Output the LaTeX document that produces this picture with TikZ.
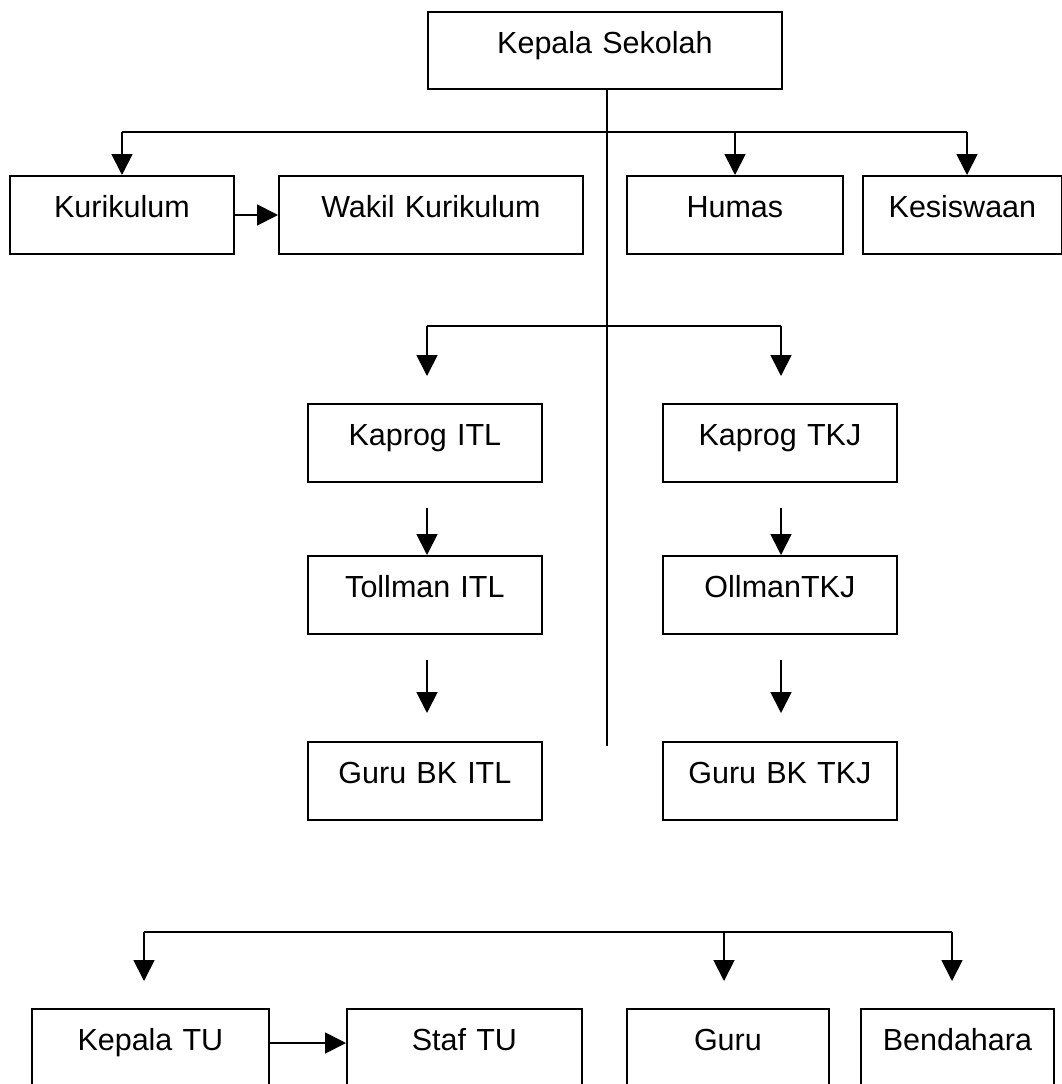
\documentclass[tikz,border=0pt]{standalone}
\usepackage{fontspec}
\setmainfont{Liberation Sans}
\usetikzlibrary{arrows.meta}
\begin{document}
\begin{tikzpicture}[x=1pt,y=-1pt,
  box/.style={draw=black, line width=1.8pt, inner sep=0pt, anchor=north west,
    text height=42pt, text depth=36pt, align=center,
    font=\fontsize{30.5}{36}\selectfont},
  conn/.style={line width=1.8pt, draw=black},
  arr/.style={conn, -{Triangle[length=21pt,width=21pt]}}]
\useasboundingbox[fill=white] (0,0) rectangle (1062,1084);
% boxes
\node[box, text width=354pt, text height=42pt, text depth=35pt] (ks) at (427,11) {Kepala Sekolah};
\node[box, text width=224pt] (kur) at (9,175) {Kurikulum};
\node[box, text width=304pt] (wak) at (278,175) {Wakil Kurikulum};
\node[box, text width=216pt] (hum) at (626,175) {Humas};
\node[box, text width=199pt] (kes) at (862,175) {Kesiswaan};
\node[box, text width=234pt] (kitl) at (307,403) {Kaprog ITL};
\node[box, text width=234pt] (ktkj) at (662,403) {Kaprog TKJ};
\node[box, text width=234pt] (titl) at (307,555) {Tollman ITL};
\node[box, text width=234pt] (ttkj) at (662,555) {OllmanTKJ};
\node[box, text width=234pt] (gitl) at (307,741) {Guru BK ITL};
\node[box, text width=234pt] (gtkj) at (662,741) {Guru BK TKJ};
\node[box, text width=237pt] (ktu) at (31,1008) {Kepala TU};
\node[box, text width=235pt] (stu) at (346,1008) {Staf TU};
\node[box, text width=202pt] (guru) at (626,1008) {Guru};
\node[box, text width=193pt] (bend) at (860,1008) {Bendahara};
% junction coordinates
\coordinate (mainEnd) at (607,746);
\coordinate (t1) at (122,132);
\coordinate (t2) at (735,132);
\coordinate (t3) at (967,132);
\coordinate (tm) at (607,132);
\coordinate (m1) at (427,326);
\coordinate (m2) at (781,326);
\coordinate (m1e) at (427,376);
\coordinate (m2e) at (781,376);
\coordinate (c1s) at (427,508);
\coordinate (c2s) at (781,508);
\coordinate (c3s) at (427,660);
\coordinate (c4s) at (781,660);
\coordinate (c3e) at (427,713);
\coordinate (c4e) at (781,713);
\coordinate (b1) at (144,932);
\coordinate (b2) at (724,932);
\coordinate (b3) at (952,932);
\coordinate (b1e) at (144,981);
\coordinate (b2e) at (724,981);
\coordinate (b3e) at (952,981);
% main vertical
\draw[conn] (ks.south -| tm) -- (mainEnd);
% top row
\draw[conn] (t1) -- (t3);
\draw[arr] (t1) -- (t1 |- kur.north);
\draw[arr] (t2) -- (t2 |- hum.north);
\draw[arr] (t3) -- (t3 |- kes.north);
\draw[arr] (kur.east |- 0,215) -- (wak.west |- 0,215);
% middle
\draw[conn] (m1) -- (m2);
\draw[arr] (m1) -- (m1e);
\draw[arr] (m2) -- (m2e);
\draw[arr] (c1s) -- (c1s |- titl.north);
\draw[arr] (c2s) -- (c2s |- ttkj.north);
\draw[arr] (c3s) -- (c3e);
\draw[arr] (c4s) -- (c4e);
% bottom
\draw[conn] (b1) -- (b3);
\draw[arr] (b1) -- (b1e);
\draw[arr] (b2) -- (b2e);
\draw[arr] (b3) -- (b3e);
\draw[arr] (ktu.east |- 0,1043) -- (stu.west |- 0,1043);
\end{tikzpicture}
\end{document}
